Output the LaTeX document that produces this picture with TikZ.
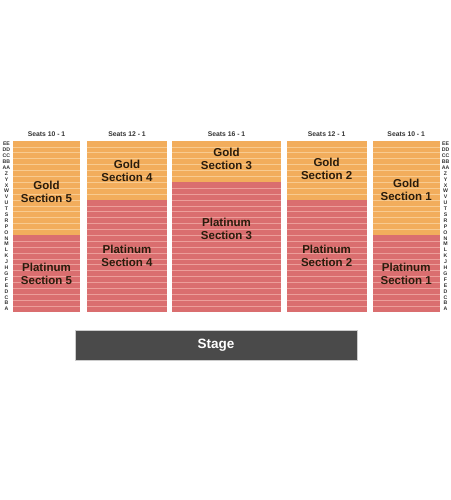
\documentclass[tikz,border=0pt]{standalone}
\usepackage{fontspec}
\setmainfont{Liberation Sans}
\definecolor{gold}{HTML}{F2AD5C}
\definecolor{goldline}{HTML}{F8CB90}
\definecolor{plat}{HTML}{DA6E6F}
\definecolor{platline}{HTML}{EC9E9A}
\definecolor{stagegray}{HTML}{4A4A4A}
\definecolor{labtext}{HTML}{2A1C0C}
\definecolor{seattext}{HTML}{333333}
\newcommand\seatsect[3]{%
  \pgfmathsetmacro\yb{141+#3*5.8966}
  \fill[gold] (#1,141) rectangle (#2,\yb);
  \fill[plat] (#1,\yb) rectangle (#2,312);
  \foreach \i in {1,...,28}{%
    \pgfmathsetmacro\yy{141+\i*5.8966}
    \ifnum\i<#3 \draw[rowline,goldline] (#1,\yy) -- (#2,\yy);\fi
    \ifnum\i>#3 \draw[rowline,platline] (#1,\yy) -- (#2,\yy);\fi
  }%
}
\begin{document}
\begin{tikzpicture}[x=1pt,y=-1pt,
  rowline/.style={line width=0.7pt},
  seclab/.style={font=\bfseries\fontsize{11.5}{13.5}\selectfont, text=labtext, align=center, inner sep=0pt},
  seatlab/.style={font=\bfseries\fontsize{6.8}{7}\selectfont, text=seattext, inner sep=0pt},
  rowlab/.style={font=\bfseries\fontsize{5.2}{5.2}\selectfont, text=seattext, inner sep=0pt},
  stagebox/.style={fill=stagegray, draw=black!20, line width=0.6pt, minimum width=282pt, minimum height=30pt, inner sep=0pt, text=white, font=\bfseries\fontsize{13.5}{15}\selectfont}]
\useasboundingbox (0,0) rectangle (450,500);
\fill[white] (0,0) rectangle (450,500);
% sections
\seatsect{13}{80}{16}
\seatsect{86.7}{167}{10}
\seatsect{172.3}{280.7}{7}
\seatsect{286.7}{366.5}{10}
\seatsect{372.5}{440}{16}
% seat labels
\node[seatlab] (s5) at (46.5,134) {Seats 10 - 1};
\node[seatlab] (s4) at (127,134) {Seats 12 - 1};
\node[seatlab] (s3) at (226.5,134) {Seats 16 - 1};
\node[seatlab] (s2) at (326.6,134) {Seats 12 - 1};
\node[seatlab] (s1) at (406.2,134) {Seats 10 - 1};
% row labels
\foreach \r [count=\i from 0] in {EE,DD,CC,BB,AA,Z,Y,X,W,V,U,T,S,R,P,O,N,M,L,K,J,H,G,F,E,D,C,B,A}{%
  \pgfmathsetmacro\ry{141+(\i+0.5)*5.8966}
  \node[rowlab] (L\i) at (6.5,\ry) {\r};
  \node[rowlab] (R\i) at (445.5,\ry) {\r};
}
% section labels
\node[seclab] (g5) at (46.5,192) {Gold\\Section 5};
\node[seclab] (p5) at (46.5,274) {Platinum\\Section 5};
\node[seclab] (g4) at (127,171) {Gold\\Section 4};
\node[seclab] (p4) at (127,256) {Platinum\\Section 4};
\node[seclab] (g3) at (226.5,159) {Gold\\Section 3};
\node[seclab] (p3) at (226.5,229) {Platinum\\Section 3};
\node[seclab] (g2) at (326.6,169) {Gold\\Section 2};
\node[seclab] (p2) at (326.6,256) {Platinum\\Section 2};
\node[seclab] (g1) at (406.2,190) {Gold\\Section 1};
\node[seclab] (p1) at (406.2,274) {Platinum\\Section 1};
% stage
\node[stagebox] (stage) at (216,345.5) {Stage};
\end{tikzpicture}
\end{document}
